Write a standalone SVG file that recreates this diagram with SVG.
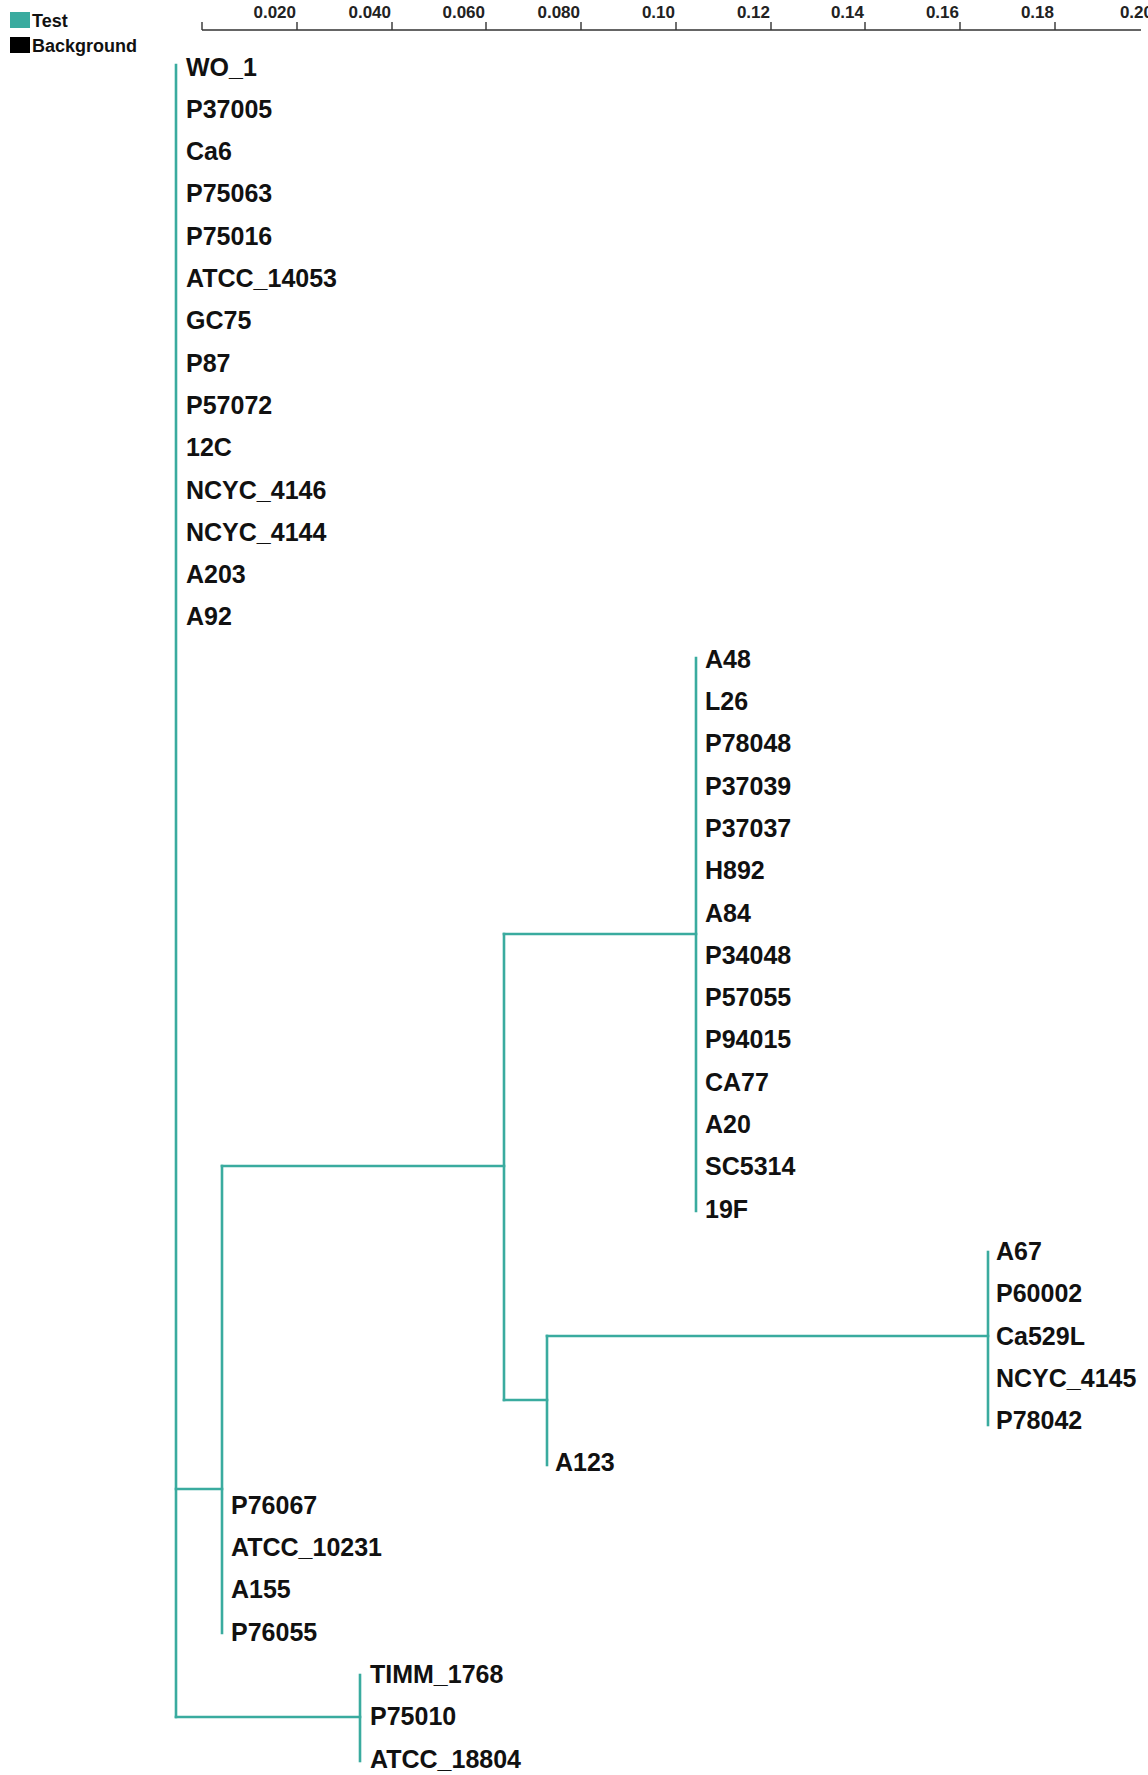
<svg xmlns="http://www.w3.org/2000/svg" width="1148" height="1775" viewBox="0 0 1148 1775">
<style>
.lbl{font-family:"Liberation Sans",Arial,sans-serif;font-weight:bold;font-size:25px;fill:#111}
.ax{font-family:"Liberation Sans",Arial,sans-serif;font-weight:bold;font-size:17px;fill:#222;text-anchor:end}
.leg{font-family:"Liberation Sans",Arial,sans-serif;font-weight:bold;font-size:18px;fill:#111}
.br{stroke:#3aab9f;stroke-width:2.6;fill:none;stroke-linecap:square}
.axl{stroke:#333;stroke-width:1.4;fill:none}
</style>
<rect width="1148" height="1775" fill="#fff"/>
<g id="legend">
<rect x="10" y="12" width="20" height="16" fill="#3aab9f"/>
<text class="leg" x="32" y="27">Test</text>
<rect x="10" y="37" width="20" height="16" fill="#000"/>
<text class="leg" x="32" y="52">Background</text>
</g>
<g id="axis">
<path class="axl" d="M202,30H1141M202,22V30M297,22V30M392,22V30M486,22V30M581,22V30M676,22V30M771,22V30M865,22V30M960,22V30M1055,22V30"/>
<text class="ax" x="296" y="18">0.020</text>
<text class="ax" x="391" y="18">0.040</text>
<text class="ax" x="485" y="18">0.060</text>
<text class="ax" x="580" y="18">0.080</text>
<text class="ax" x="675" y="18">0.10</text>
<text class="ax" x="770" y="18">0.12</text>
<text class="ax" x="864" y="18">0.14</text>
<text class="ax" x="959" y="18">0.16</text>
<text class="ax" x="1054" y="18">0.18</text>
<text class="ax" x="1153" y="18">0.20</text>
</g>
<g id="connectors">
<path class="br" d="M176,65V1717"/>
<path class="br" d="M176,1489H222"/>
<path class="br" d="M222,1166V1633"/>
<path class="br" d="M222,1166H504"/>
<path class="br" d="M504,934V1400"/>
<path class="br" d="M504,934H696"/>
<path class="br" d="M696,658V1211"/>
<path class="br" d="M504,1400H547"/>
<path class="br" d="M547,1336V1465"/>
<path class="br" d="M547,1336H988"/>
<path class="br" d="M988,1252V1425"/>
<path class="br" d="M176,1717H360"/>
<path class="br" d="M360,1675V1761"/>
</g>
<g id="leaves">
<g id="n-WO_1"><text class="lbl" x="186" y="75.5">WO_1</text></g>
<g id="n-P37005"><text class="lbl" x="186" y="117.8">P37005</text></g>
<g id="n-Ca6"><text class="lbl" x="186" y="160.1">Ca6</text></g>
<g id="n-P75063"><text class="lbl" x="186" y="202.4">P75063</text></g>
<g id="n-P75016"><text class="lbl" x="186" y="244.7">P75016</text></g>
<g id="n-ATCC_14053"><text class="lbl" x="186" y="287">ATCC_14053</text></g>
<g id="n-GC75"><text class="lbl" x="186" y="329.3">GC75</text></g>
<g id="n-P87"><text class="lbl" x="186" y="371.6">P87</text></g>
<g id="n-P57072"><text class="lbl" x="186" y="413.9">P57072</text></g>
<g id="n-12C"><text class="lbl" x="186" y="456.2">12C</text></g>
<g id="n-NCYC_4146"><text class="lbl" x="186" y="498.5">NCYC_4146</text></g>
<g id="n-NCYC_4144"><text class="lbl" x="186" y="540.8">NCYC_4144</text></g>
<g id="n-A203"><text class="lbl" x="186" y="583.1">A203</text></g>
<g id="n-A92"><text class="lbl" x="186" y="625.4">A92</text></g>
<g id="n-A48"><text class="lbl" x="705" y="667.7">A48</text></g>
<g id="n-L26"><text class="lbl" x="705" y="710">L26</text></g>
<g id="n-P78048"><text class="lbl" x="705" y="752.3">P78048</text></g>
<g id="n-P37039"><text class="lbl" x="705" y="794.6">P37039</text></g>
<g id="n-P37037"><text class="lbl" x="705" y="836.9">P37037</text></g>
<g id="n-H892"><text class="lbl" x="705" y="879.2">H892</text></g>
<g id="n-A84"><text class="lbl" x="705" y="921.5">A84</text></g>
<g id="n-P34048"><text class="lbl" x="705" y="963.8">P34048</text></g>
<g id="n-P57055"><text class="lbl" x="705" y="1006.1">P57055</text></g>
<g id="n-P94015"><text class="lbl" x="705" y="1048.4">P94015</text></g>
<g id="n-CA77"><text class="lbl" x="705" y="1090.7">CA77</text></g>
<g id="n-A20"><text class="lbl" x="705" y="1133">A20</text></g>
<g id="n-SC5314"><text class="lbl" x="705" y="1175.3">SC5314</text></g>
<g id="n-19F"><text class="lbl" x="705" y="1217.6">19F</text></g>
<g id="n-A67"><text class="lbl" x="996" y="1259.9">A67</text></g>
<g id="n-P60002"><text class="lbl" x="996" y="1302.2">P60002</text></g>
<g id="n-Ca529L"><text class="lbl" x="996" y="1344.5">Ca529L</text></g>
<g id="n-NCYC_4145"><text class="lbl" x="996" y="1386.8">NCYC_4145</text></g>
<g id="n-P78042"><text class="lbl" x="996" y="1429.1">P78042</text></g>
<g id="n-A123"><text class="lbl" x="555" y="1471.4">A123</text></g>
<g id="n-P76067"><text class="lbl" x="231" y="1513.7">P76067</text></g>
<g id="n-ATCC_10231"><text class="lbl" x="231" y="1556">ATCC_10231</text></g>
<g id="n-A155"><text class="lbl" x="231" y="1598.3">A155</text></g>
<g id="n-P76055"><text class="lbl" x="231" y="1640.6">P76055</text></g>
<g id="n-TIMM_1768"><text class="lbl" x="370" y="1682.9">TIMM_1768</text></g>
<g id="n-P75010"><text class="lbl" x="370" y="1725.2">P75010</text></g>
<g id="n-ATCC_18804"><text class="lbl" x="370" y="1767.5">ATCC_18804</text></g>
</g>
</svg>
